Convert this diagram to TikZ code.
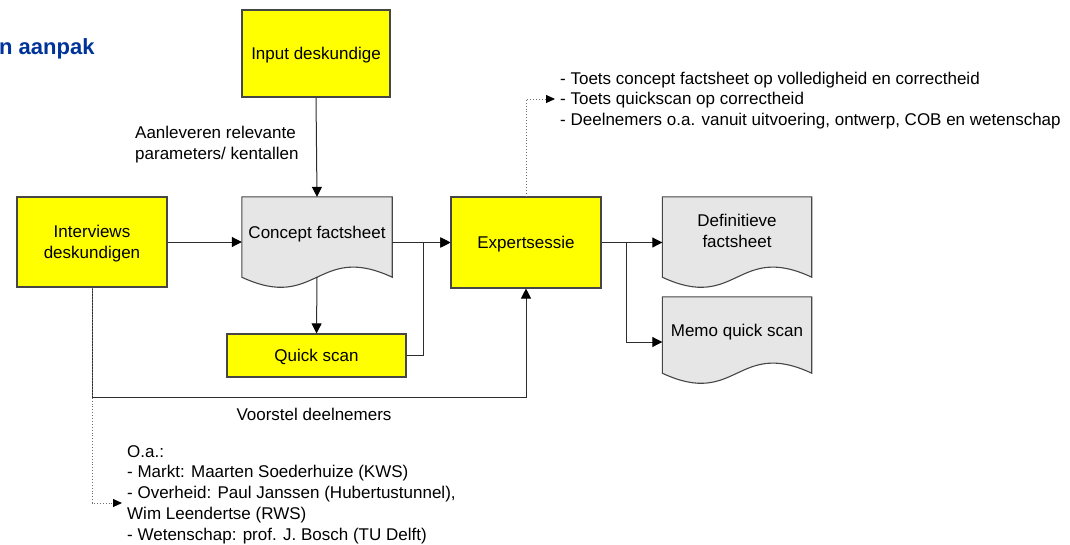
\documentclass[tikz,border=0pt]{standalone}
\usepackage{fontspec}
\setmainfont{Liberation Sans}
\usetikzlibrary{arrows.meta,calc,backgrounds}

\definecolor{boxyellow}{RGB}{255,255,0}
\definecolor{docgray}{RGB}{230,230,230}
\definecolor{edgegray}{RGB}{70,70,70}
\definecolor{linegray}{RGB}{45,45,45}
\definecolor{dotgray}{RGB}{110,110,110}
\definecolor{titleblue}{RGB}{0,51,153}

% document symbol: straight top and sides, wavy bottom
\newcommand\docoutline[1]{%
  \begin{pgfonlayer}{background}
    \filldraw[docshape] (#1.south west) -- (#1.north west) -- (#1.north east) -- (#1.south east)
      .. controls ($(#1.south)+(0,-35)$) and ($(#1.south)+(0,35)$) .. (#1.south west) -- cycle;
  \end{pgfonlayer}}

\begin{document}
\begin{tikzpicture}[x=1pt,y=-1pt,
  font=\fontsize{17}{21}\selectfont,
  procbox/.style={draw=edgegray, fill=boxyellow, line width=1.1pt, align=center, inner sep=0pt, text depth=0pt},
  docbox/.style={align=center, inner sep=0pt, minimum width=149pt, minimum height=80pt,
                 text height=10pt, text depth=8pt},
  docshape/.style={draw=edgegray, fill=docgray, line width=1.1pt},
  conn/.style={draw=linegray, line width=1pt, -{Triangle[length=10pt,width=10pt,color=black,fill=black]}},
  dotconn/.style={draw=dotgray, line width=0.9pt, dotted, -{Triangle[length=9pt,width=8pt,color=black,fill=black]}},
  note/.style={align=left, inner ysep=0pt, inner xsep=5pt, font=\fontsize{17}{20.7}\selectfont}
]
\useasboundingbox (0,0) rectangle (1070,544);

% heading
\node[anchor=west, inner sep=0pt, text=titleblue, font=\fontsize{22}{26}\selectfont\bfseries] (title) at (-1,48.5) {n aanpak};

% process boxes
\node[procbox, minimum width=148pt, minimum height=87pt] (in) at (316,53.5) {Input deskundige};
\node[procbox, minimum width=150pt, minimum height=90pt] (iv) at (92,242) {Interviews\\deskundigen};
\node[procbox, minimum width=150pt, minimum height=91pt] (ex) at (526,242.5) {Expertsessie};
\node[procbox, minimum width=179pt, minimum height=43pt] (qs) at (316.5,355.5) {Quick scan};

% documents
\node[docbox, minimum width=150pt] (cf) at (317,237) {Concept factsheet};
\node[docbox, text height=25pt, text depth=4pt] (df) at (737,237) {Definitieve\\factsheet};
\node[docbox, minimum height=76pt] (mq) at (737,335) {Memo quick scan};
\docoutline{cf}
\docoutline{df}
\docoutline{mq}

% labels and notes
\node[anchor=west, align=left, inner sep=2pt] (lbl1) at (133,144.5) {Aanleveren relevante\\parameters/ kentallen};
\node[inner sep=2pt] (lbl2) at (314,414) {Voorstel deelnemers};
\node[note, anchor=west] (ts) at (555,100.5) {- Toets concept factsheet op volledigheid en correctheid\\- Toets quickscan op correctheid\\- Deelnemers o.a. vanuit uitvoering, ontwerp, COB en wetenschap};
\node[note, anchor=west] (oa) at (122,494.5) {O.a.:\\- Markt: Maarten Soederhuize (KWS)\\- Overheid: Paul Janssen (Hubertustunnel),\\Wim Leendertse (RWS)\\- Wetenschap: prof. J. Bosch (TU Delft)};

% connectors
\draw[conn] (in.south) -- (cf.north);
\draw[conn] (iv.east) -- (iv.east -| cf.west);
\draw[conn] (ex.west -| cf.east) -- (ex.west);
\draw[conn] (qs.east) -- ++(17,0) |- (ex.west);
\draw[conn] (cf.south) -- (qs.north);
\draw[conn] (iv.south) -- ++(0,110) -| (ex.south);
\draw[conn] (ex.east) -- (ex.east -| df.west);
\draw[conn] (ex.east) -- ++(25,0) |- ([yshift=-7pt]mq.west);
\draw[dotconn] (iv.south) |- ([yshift=-8.5pt]oa.west);
\draw[dotconn] (ex.north) |- ([yshift=1.5pt]ts.west);
\end{tikzpicture}
\end{document}
